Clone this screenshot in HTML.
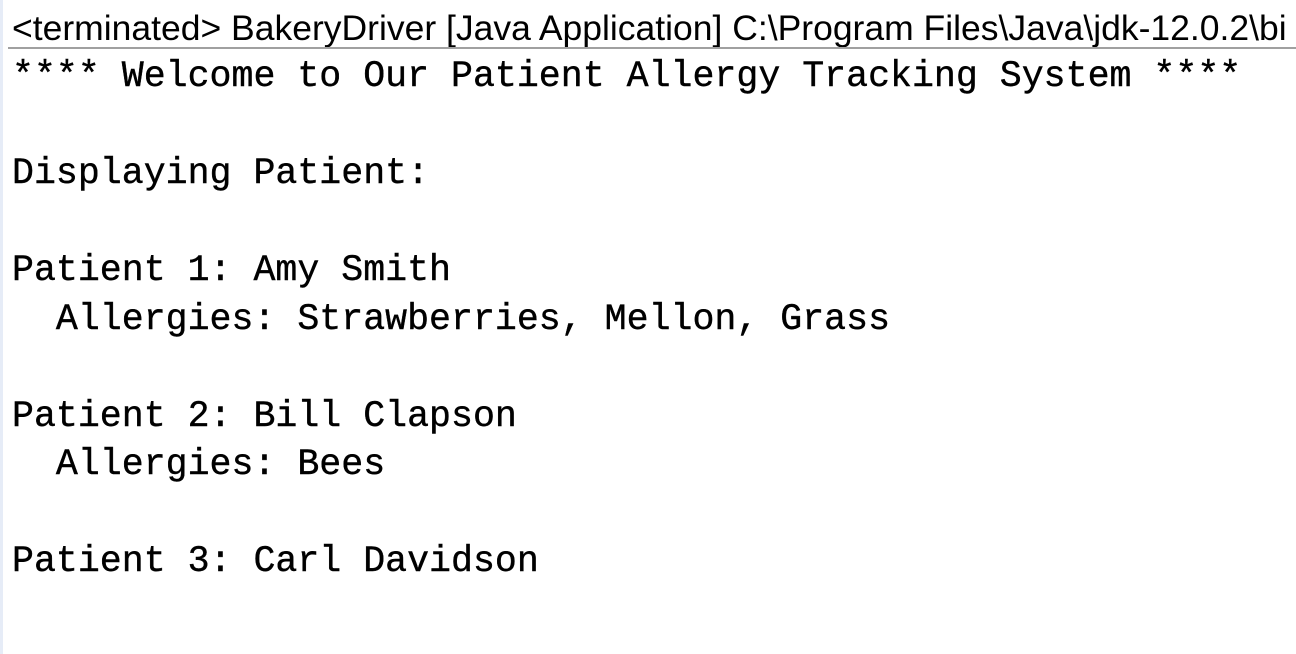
<!DOCTYPE html>
<html><head><meta charset="utf-8"><style>
html,body{margin:0;padding:0;background:#fff;width:1296px;height:654px;overflow:hidden;position:relative}
.strip{position:absolute;left:0;top:0;width:3px;height:654px;background:#e6ecf7}
.hdr{position:absolute;left:12px;top:8px;white-space:nowrap;font-family:"Liberation Sans",sans-serif;font-size:35.5px;color:#000;line-height:40px}
.sep{position:absolute;left:8px;right:0;top:47px;height:2px;background:#a0a0a0}
pre{position:absolute;left:12px;top:53px;margin:0;font-family:"Liberation Mono",monospace;font-size:36.6px;line-height:48.5px;color:#000;-webkit-text-stroke:0.4px #000}
</style></head><body>
<div class="strip"></div>
<div class="hdr">&lt;terminated&gt; BakeryDriver [Java Application] C:\Program Files\Java\jdk-12.0.2\bi</div>
<div class="sep"></div>
<pre>**** Welcome to Our Patient Allergy Tracking System ****

Displaying Patient:

Patient 1: Amy Smith
  Allergies: Strawberries, Mellon, Grass

Patient 2: Bill Clapson
  Allergies: Bees

Patient 3: Carl Davidson</pre>
</body></html>
